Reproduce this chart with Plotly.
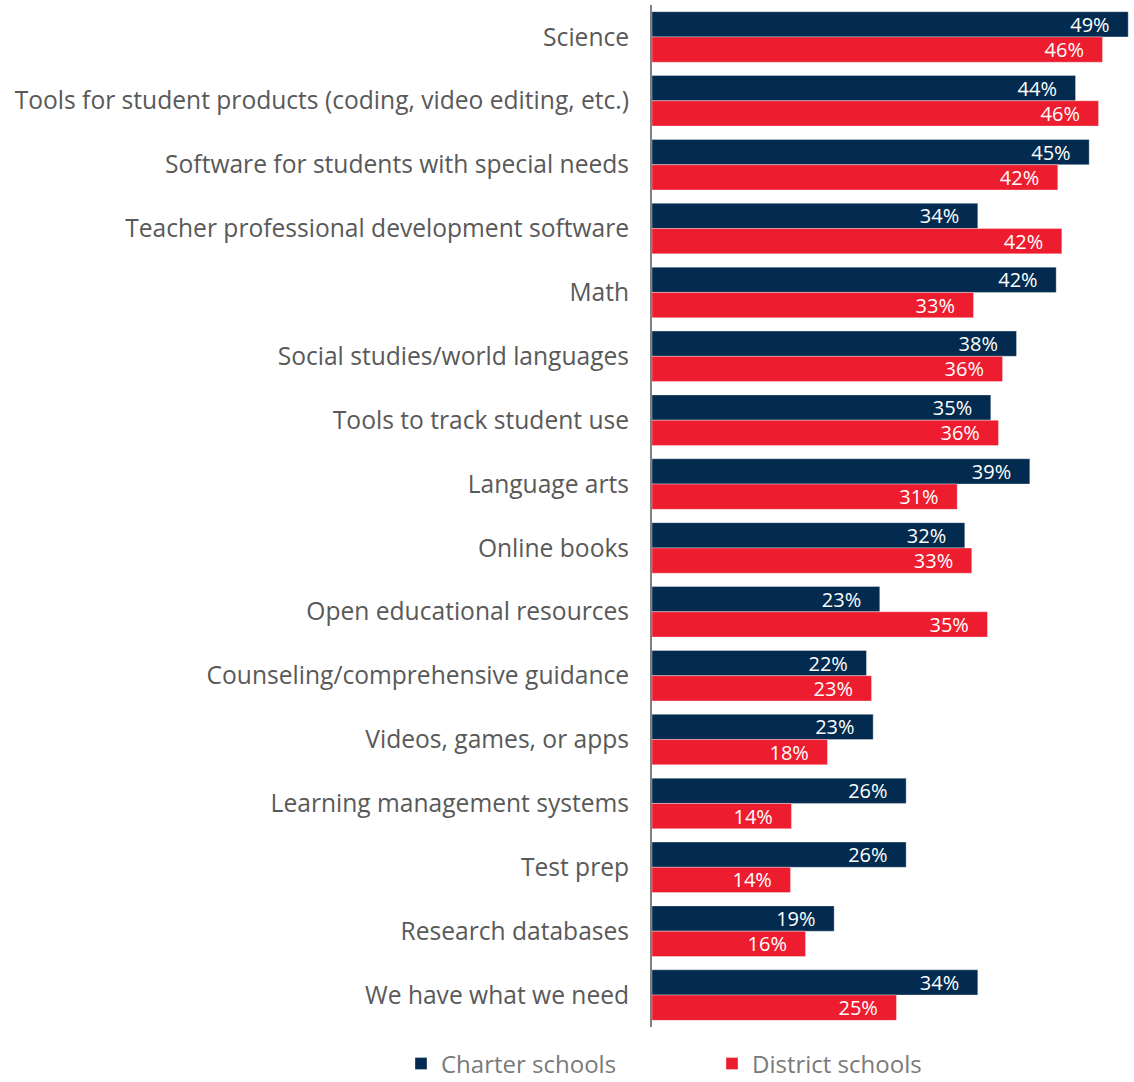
import plotly.graph_objects as go

categories = [
    "Science",
    "Tools for student products (coding, video editing, etc.)",
    "Software for students with special needs",
    "Teacher professional development software",
    "Math",
    "Social studies/world languages",
    "Tools to track student use",
    "Language arts",
    "Online books",
    "Open educational resources",
    "Counseling/comprehensive guidance",
    "Videos, games, or apps",
    "Learning management systems",
    "Test prep",
    "Research databases",
    "We have what we need",
]
charter = [49.07, 43.64, 45.05, 33.57, 41.65, 37.56, 34.91, 38.93, 32.23, 23.47,
           22.10, 22.79, 26.19, 26.19, 18.77, 33.57]
district = [46.42, 46.01, 41.81, 42.23, 33.13, 36.12, 35.70, 31.45, 32.95, 34.57,
            22.62, 18.08, 14.37, 14.27, 15.82, 25.19]
series_names = ["Charter schools", "District schools"]
colors = ["#022B4F", "#ED1C2E"]
legend_ids = ["legend", "legend2"]
legend_x_px = [401, 712]

FONT = "Open Sans"
W, H = 1134, 1082
ML, MR, MT, MB = 652, 2, 5, 55
px_per_unit = 9.705
plot_w = W - ML - MR
plot_h = H - MT - MB
xmax = plot_w / px_per_unit
legend_y_px = 1064

fig = go.Figure()
for name, vals, col, lid in zip(series_names, [charter, district], colors, legend_ids):
    fig.add_trace(go.Bar(
        y=categories, x=vals, name=name, orientation="h",
        legend=lid, showlegend=True,
        marker=dict(color=col, line=dict(color="rgba(255,255,255,0.35)", width=1)),
        text=[f"{round(v)}%\u00a0\u00a0\u00a0" for v in vals],
        textposition="inside", insidetextanchor="end", constraintext="none",
        textfont=dict(family=FONT, size=20, color="white"),
        hoverinfo="x+y",
    ))

legend_common = dict(orientation="h", xref="container", yref="container",
                     y=1 - legend_y_px / H, xanchor="left", yanchor="middle",
                     font=dict(family=FONT, size=24, color="#7a7a7a"),
                     bgcolor="rgba(0,0,0,0)")

fig.update_layout(
    width=W, height=H,
    showlegend=True,
    margin=dict(l=ML, r=MR, t=MT, b=MB),
    barmode="group", bargap=0.208, bargroupgap=0,
    plot_bgcolor="white", paper_bgcolor="white",
    font=dict(family=FONT),
    xaxis=dict(range=[0, xmax], showgrid=False, zeroline=False,
               showticklabels=False, showline=False, fixedrange=True),
    yaxis=dict(autorange="reversed", showgrid=False, zeroline=False,
               showline=True, linecolor="#808080", linewidth=2,
               ticks="", ticklabelstandoff=16,
               tickfont=dict(family=FONT, size=24.6, color="#595959")),
    legend=dict(x=legend_x_px[0] / W, **legend_common),
    legend2=dict(x=legend_x_px[1] / W, **legend_common),
)

fig.write_html("out.html", config={"displayModeBar": False},
               post_script="document.body.style.margin='0px';document.body.style.overflow='hidden';")
